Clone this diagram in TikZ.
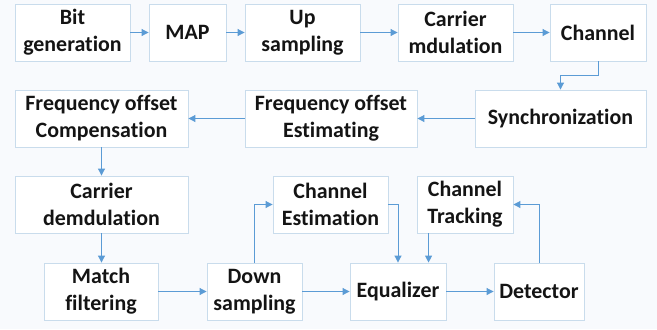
\documentclass[tikz,border=0pt]{standalone}
\usepackage{fontspec}
\setmainfont{Carlito}[Ligatures=NoCommon]
\usetikzlibrary{arrows.meta}
\definecolor{boxline}{HTML}{C9DCEC}
\definecolor{flowblue}{HTML}{5B9BD5}
\definecolor{paper}{HTML}{F8FAFD}
\definecolor{inktext}{HTML}{141414}
\tikzset{
  blockbox/.style={draw=boxline,line width=0.9bp,fill=white,align=center,text=inktext,
    inner sep=0pt,minimum height=57bp,font=\bfseries\fontsize{22}{27}\selectfont},
  flow/.style={draw=flowblue,line width=1bp,-{Triangle[length=7bp,width=7bp]}}
}
\begin{document}
\begin{tikzpicture}[x=1bp,y=-1bp] % Receiver chain
         \fill[paper](0,0) rectangle (657,329);
         \useasboundingbox (0,0) rectangle (657,329);
         % transmitter row
         \node[blockbox,minimum width=115bp] (bit) at (72.5,32.5) {Bit\\generation};
         \node[blockbox,minimum width=77bp] (map) at (187.5,32.5) {MAP};
         \node[blockbox,minimum width=115bp] (up) at (302.5,32.5) {Up\\sampling};
         \node[blockbox,minimum width=115bp] (carr) at (455.5,32.5) {Carrier\\mdulation};
         \node[blockbox,minimum width=96bp] (chan) at (598,32.5) {Channel};
         % synchronization row
         \node[blockbox,minimum width=173bp] (fcomp) at (101.5,118.5) {Frequency offset\\Compensation};
         \node[blockbox,minimum width=172bp] (fest) at (331,118.5) {Frequency offset\\Estimating};
         \node[blockbox,minimum width=171bp] (sync) at (560.5,118.5) {Synchronization};
         % estimation row
         \node[blockbox,minimum width=173bp] (cdem) at (101.5,204.5) {Carrier\\demdulation};
         \node[blockbox,minimum width=115bp] (cest) at (330.5,204.5) {Channel\\Estimation};
         \node[blockbox,minimum width=96bp] (ctrk) at (465,204.5) {Channel\\Tracking};
         % equalization row
         \node[blockbox,minimum width=114bp] (mf) at (101,291.5) {Match\\filtering};
         \node[blockbox,minimum width=95bp] (ds) at (254.5,291.5) {Down\\sampling};
         \node[blockbox,minimum width=96bp] (eq) at (398,291.5) {Equalizer};
         \node[blockbox,minimum width=90bp] (det) at (539,291.5) {Detector};
         % connectors
         \draw[flow](bit)--(map);
         \draw[flow](map)--(up);
         \draw[flow](up)--(carr);
         \draw[flow](carr)--(chan);
         \draw[flow](chan.south)--++(0,14)-|(sync.north);
         \draw[flow](sync)--(fest);
         \draw[flow](fest)--(fcomp);
         \draw[flow](fcomp)--(cdem);
         \draw[flow](cdem.south)--(cdem.south|-mf.north);
         \draw[flow](mf)--(ds);
         \draw[flow](ds.north)|-(cest.west);
         \draw[flow](ds)--(eq);
         \draw[flow](cest.east)-|(eq.north);
         \draw[flow]([xshift=12bp]ctrk.south west)--([xshift=12bp]ctrk.south west|-eq.north);
         \draw[flow](eq)--(det);
         \draw[flow](det.north)|-(ctrk.east);
      \end{tikzpicture}
\end{document}
